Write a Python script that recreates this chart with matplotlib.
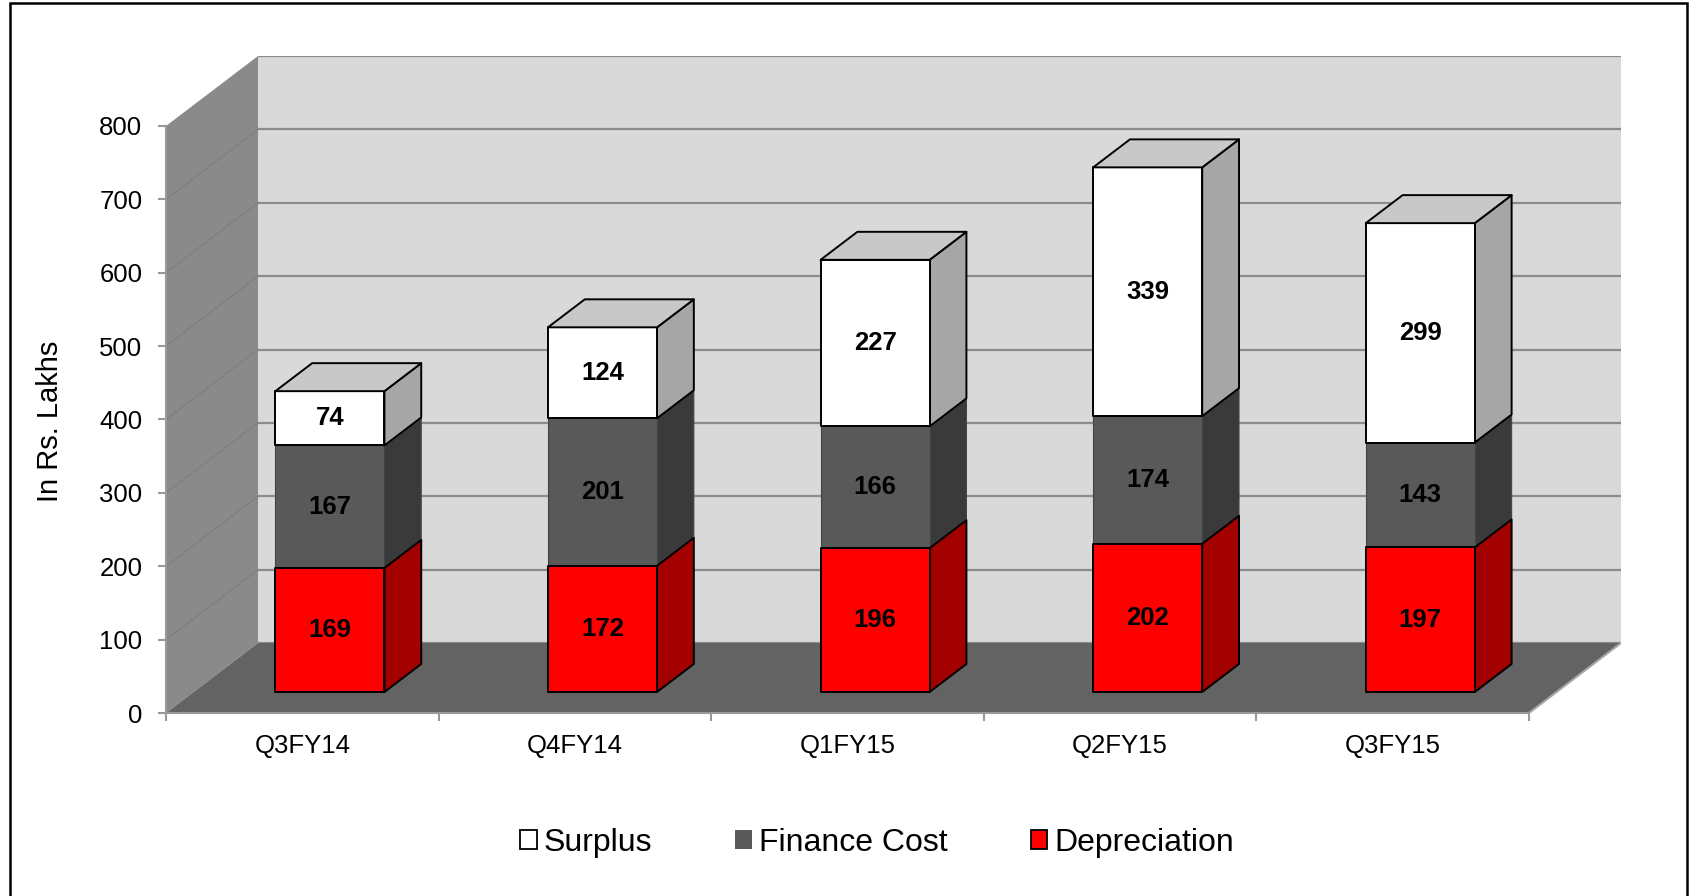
import matplotlib
matplotlib.use('Agg')
import matplotlib.pyplot as plt
from matplotlib.patches import Polygon, Rectangle, Patch

plt.rcParams['font.family'] = ['Liberation Sans', 'DejaVu Sans']

# data
quarters = ['Q3FY14', 'Q4FY14', 'Q1FY15', 'Q2FY15', 'Q3FY15']
depreciation = [169, 172, 196, 202, 197]
finance_cost = [167, 201, 166, 174, 143]
surplus = [74, 124, 227, 339, 299]
y_ticks = [0, 100, 200, 300, 400, 500, 600, 700, 800]

# oblique (Excel-style) depth of the plot box, in data units
DX = 0.3375
DY = 95.4
BAR_W = 0.4
D0, D1 = 0.3, 0.7

n = len(quarters)
ymax = y_ticks[-1]

fig = plt.figure(figsize=(16.92, 8.96), dpi=100)
ax = fig.add_axes([166 / 1692, 1 - 713 / 896, 1455 / 1692, 657 / 896])
ax.set_xlim(0, n + DX)
ax.set_ylim(0, ymax + DY)
ax.set_facecolor('none')
for s in ax.spines.values():
    s.set_visible(False)

# walls and floor
ax.add_patch(Polygon([(DX, DY), (n + DX, DY), (n + DX, ymax + DY), (DX, ymax + DY)],
                     closed=True, fc='#d9d9d9', ec='none', zorder=0))
ax.add_patch(Polygon([(0, 0), (DX, DY), (DX, ymax + DY), (0, ymax)],
                     closed=True, fc='#8a8a8a', ec='none', zorder=0))
for v in y_ticks:
    ax.plot([DX, n + DX], [v + DY, v + DY], color='#8c8c8c', lw=1.6, zorder=1,
            solid_capstyle='butt')
    if 0 < v < ymax:
        ax.plot([0, DX], [v, v + DY], color='#7e7e7e', lw=0.8, zorder=1)
ax.add_patch(Polygon([(0, 0), (n, 0), (n + DX, DY), (DX, DY)],
                     closed=True, fc='#636363', ec='none', zorder=2))
ax.plot([n, n + DX], [0, DY], color='#a6a6a6', lw=1.5, zorder=2)
ax.plot([0, n], [0, 0], color='#999999', lw=1.5, zorder=2.5, clip_on=False)
ax.plot([0, 0], [0, ymax], color='#999999', lw=1.5, zorder=2.5, clip_on=False)


def box(xc, lo, hi, front, side, top, edge, lw, draw_top, z):
    xl = xc - BAR_W / 2 + D0 * DX
    xr = xc + BAR_W / 2 + D0 * DX
    sx = (D1 - D0) * DX
    sy = (D1 - D0) * DY
    y0 = lo + D0 * DY
    y1 = hi + D0 * DY
    faces = [([(xr, y0), (xr + sx, y0 + sy), (xr + sx, y1 + sy), (xr, y1)], side),
             ([(xl, y0), (xr, y0), (xr, y1), (xl, y1)], front)]
    if draw_top:
        faces.append(([(xl, y1), (xr, y1), (xr + sx, y1 + sy), (xl + sx, y1 + sy)], top))
    for pts, fc in faces:
        ax.add_patch(Polygon(pts, closed=True, fc=fc, ec=edge, lw=lw,
                             joinstyle='round', zorder=z))


series = [
    ('Depreciation', depreciation, '#ff0000', '#a30000', '#c00000', 'black', 1.4, 4),
    ('Finance Cost', finance_cost, '#595959', '#3a3a3a', '#4a4a4a', '#454545', 0.8, 3),
    ('Surplus', surplus, '#ffffff', '#a6a6a6', '#c8c8c8', 'black', 1.4, 4),
]

for i in range(n):
    base = 0
    xc = i + 0.5
    for k, (name, vals, fc, sc, tc, ec, lw, z) in enumerate(series):
        v = vals[i]
        box(xc, base, base + v, fc, sc, tc, ec, lw, k == len(series) - 1, z)
        ax.text(xc + D0 * DX, base + v / 2 + D0 * DY, str(v), ha='center', va='center',
                fontsize=18.5, fontweight='bold', color='black', zorder=6)
        base += v

# axes ticks
ax.set_yticks(y_ticks)
ax.set_yticklabels([str(v) for v in y_ticks])
ax.set_xticks(range(n + 1))
ax.set_xticklabels([])
ax.set_xticks([i + 0.5 for i in range(n)], minor=True)
ax.set_xticklabels(quarters, minor=True)
ax.tick_params(axis='y', direction='out', length=6, width=1.5, color='#999999',
               labelsize=18.5, pad=11)
ax.tick_params(axis='x', which='major', direction='out', length=6, width=1.5,
               color='#999999')
ax.tick_params(axis='x', which='minor', length=0, labelsize=18.5, pad=15)

fig.text(50 / 1692, 1 - 421 / 896, 'In Rs. Lakhs', rotation=90, ha='center',
         va='center', fontsize=21)

handles = [Patch(fc='#ffffff', ec='black', lw=1.3),
           Patch(fc='#595959', ec='none'),
           Patch(fc='#ff0000', ec='black', lw=1.3)]
fig.legend(handles, ['Surplus', 'Finance Cost', 'Depreciation'], loc='center',
           bbox_to_anchor=(877 / 1692, 1 - 843 / 896), ncol=3, frameon=False,
           fontsize=23, handlelength=0.52, handleheight=0.52, handletextpad=0.22,
           columnspacing=2.6, borderpad=0)

# outer chart border
fig.add_artist(Rectangle((10 / 1692, -0.01), 1677 / 1692, 1 - 3 / 896 + 0.01,
                         transform=fig.transFigure, fill=False, ec='black', lw=1.8))

fig.savefig('out.png', dpi=100)
